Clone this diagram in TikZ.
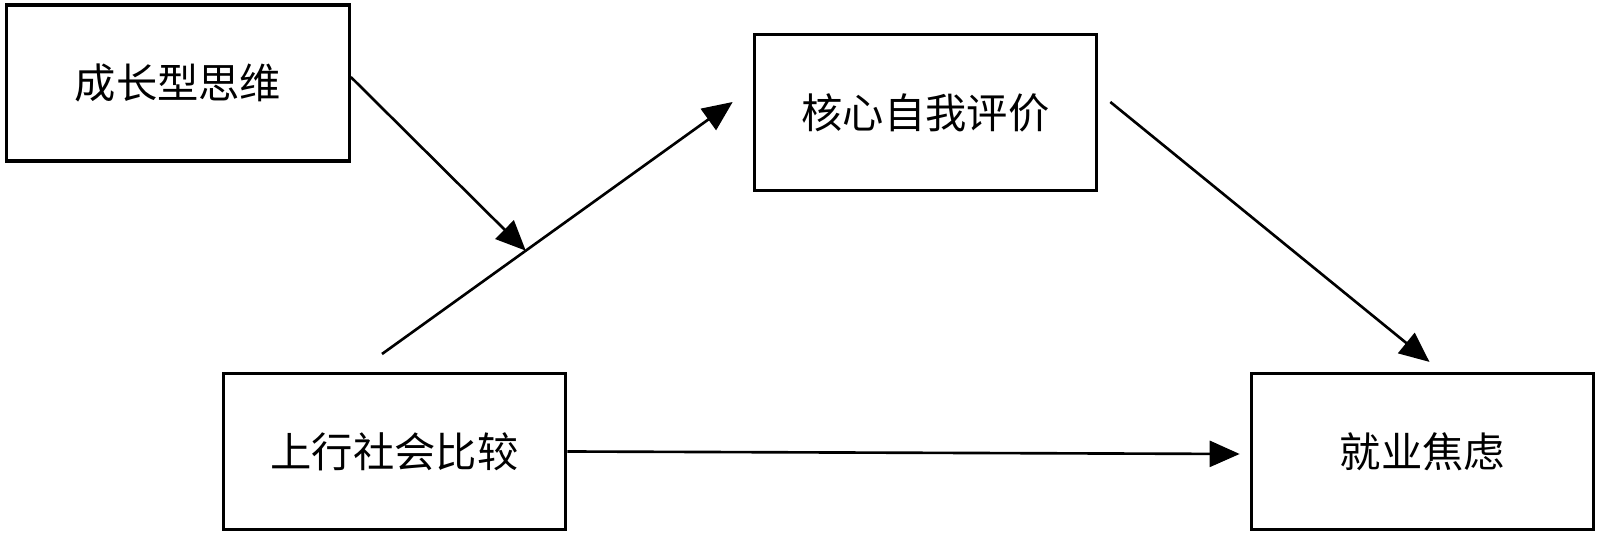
\documentclass[tikz,border=0pt]{standalone}
\usepackage{fontspec}
\usepackage{xcolor}
\usepackage{tikz}
\usetikzlibrary{arrows.meta, calc}
\newfontfamily\cjk{Noto Sans CJK SC}

\begin{document}
\begin{tikzpicture}[>={Triangle[length=0.6cm, width=0.52cm]},
  box/.style={draw=black, line width=1.8pt, fill=white,
              minimum width=6.85cm, minimum height=3.12cm, inner sep=0pt,
              font=\cjk\fontsize{23.5}{28}\selectfont, align=center},
  link/.style={->, black, line width=1.5pt}]
  \useasboundingbox (0,0) rectangle (32,-10.72);
  \node[box] (growth) at (3.56,-1.66) {成长型思维};
  \node[box] (core) at (18.51,-2.25) {核心自我评价};
  \node[box] (upward) at (7.89,-9.03) {上行社会比较};
  \node[box] (anxiety) at (28.45,-9.03) {就业焦虑};
  % mediation path with moderator
  \coordinate (mstart) at (7.64,-7.08);
  \coordinate (mend) at ([xshift=-0.4cm, yshift=0.21cm]core.west);
  \coordinate (mod) at ($(mstart)!0.41!(mend)$);
  \draw[link] (mstart) -- (mend);
  \draw[link] ([yshift=0.12cm]growth.east) -- (mod);
  \draw[link] ([xshift=0.24cm, yshift=0.21cm]core.east) -- ([xshift=0.14cm, yshift=0.2cm]anxiety.north);
  \draw[link] (upward.east) -- ([xshift=-0.2cm, yshift=-0.05cm]anxiety.west);
\end{tikzpicture}
\end{document}
